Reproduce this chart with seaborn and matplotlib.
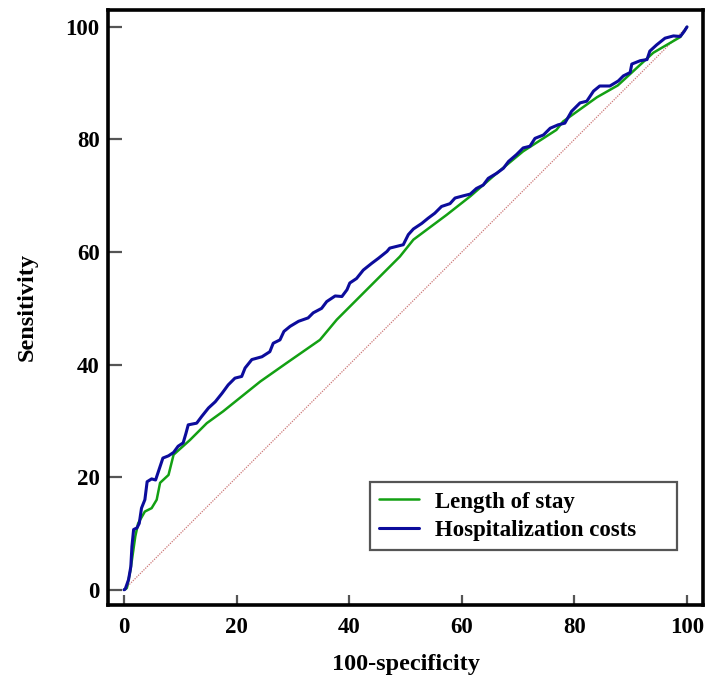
"""Curvas ROC: tempo de internação x custos hospitalares."""
import matplotlib
matplotlib.use('Agg')
import matplotlib.pyplot as plt
import pandas as pd
import seaborn as sns

# curva verde: tempo de internação (100-especificidade, sensibilidade)
los_x = [0, 0.5, 1.1, 1.4, 2.0, 2.5, 3.7, 4.9, 5.8, 6.4, 7.9, 8.8, 11.7, 14.7,
         17.6, 24.2, 28.9, 34.8, 37.8, 43.7, 49.0, 51.4, 57.3, 61.5, 66.2,
         70.9, 76.8, 78.0, 84.0, 87.7, 94.0, 96.4, 98.8, 100]
los_y = [0, 0.3, 3.3, 5.3, 9.5, 11.8, 13.9, 14.5, 16.0, 19.0, 20.4, 24.0, 26.6,
         29.6, 31.7, 37.0, 40.3, 44.4, 48.0, 53.9, 59.2, 62.2, 66.6, 69.9,
         74.0, 77.9, 81.7, 83.2, 87.5, 89.6, 95.4, 96.8, 98.2, 100]

# curva azul: custos hospitalares
cost_x = [0, 0.2, 0.8, 1.2, 1.4, 1.7, 2.3, 2.7, 3.1, 3.7, 4.1, 4.9, 5.6, 6.3,
          6.9, 7.9, 8.8, 9.6, 10.5, 11.0, 11.4, 12.9, 13.8, 15.0, 16.2, 17.4,
          18.5, 19.7, 20.9, 21.5, 22.7, 24.5, 25.9, 26.5, 27.7, 28.4, 29.5,
          31.0, 32.7, 33.6, 35.1, 36.0, 37.5, 38.7, 39.6, 40.1, 41.3, 42.5,
          44.0, 45.2, 46.7, 47.2, 48.4, 49.6, 50.5, 51.4, 52.9, 54.0, 55.2,
          56.4, 57.9, 58.8, 60.3, 61.5, 62.6, 63.8, 64.7, 66.2, 67.4, 68.3,
          69.7, 70.9, 72.1, 73.0, 74.5, 75.7, 77.1, 78.3, 79.5, 81.0, 82.2,
          83.4, 84.5, 86.3, 87.8, 88.7, 89.9, 90.2, 91.7, 92.9, 93.4, 94.6,
          96.1, 97.6, 98.8, 99.5, 100]
cost_y = [0, 0.1, 1.8, 4.1, 7.7, 10.7, 11.0, 11.8, 14.5, 16.0, 19.2, 19.7,
          19.5, 21.6, 23.4, 23.8, 24.4, 25.5, 26.1, 27.8, 29.3, 29.6, 30.8,
          32.3, 33.4, 34.9, 36.4, 37.6, 37.9, 39.4, 40.9, 41.4, 42.3, 43.8,
          44.4, 45.9, 46.8, 47.7, 48.3, 49.2, 50.0, 51.2, 52.2, 52.1, 53.3,
          54.5, 55.3, 56.8, 58.0, 58.9, 60.1, 60.7, 61.0, 61.3, 63.1, 64.1,
          65.1, 66.0, 66.9, 68.1, 68.6, 69.6, 70.0, 70.3, 71.3, 71.9, 73.1,
          74.0, 74.9, 76.1, 77.3, 78.5, 78.8, 80.2, 80.8, 82.0, 82.6, 82.9,
          85.0, 86.5, 86.8, 88.6, 89.5, 89.5, 90.4, 91.3, 91.9, 93.4, 94.0,
          94.2, 95.7, 96.8, 98.0, 98.4, 98.3, 99.2, 100]

# linha de referência (classificador aleatório)
ref_x = [0, 100]
ref_y = [0, 100]

ticks = [0, 20, 40, 60, 80, 100]

sns.set_theme(style='white')
plt.rcParams['font.family'] = ['Liberation Serif', 'DejaVu Serif']
plt.rcParams['font.weight'] = 'bold'
plt.rcParams['text.color'] = 'black'
plt.rcParams['axes.labelcolor'] = 'black'

# tabela longa para o seaborn
df = pd.concat([
    pd.DataFrame({'x': los_x, 'y': los_y, 'curva': 'Length of stay'}),
    pd.DataFrame({'x': cost_x, 'y': cost_y, 'curva': 'Hospitalization costs'}),
], ignore_index=True)

fig = plt.figure(figsize=(7.05, 6.77), dpi=100)
ax = fig.add_axes([0.1532, 0.1064, 0.844, 0.8788])

# diagonal de referência
sns.lineplot(x=ref_x, y=ref_y, ax=ax, color='#cc7777', lw=0.9,
             linestyle=(0, (1, 1)), legend=False)

for nome, cor, lw in [('Length of stay', '#13a013', 1.8),
                      ('Hospitalization costs', '#0c0c9c', 2.2)]:
    sub = df[df['curva'] == nome]
    sns.lineplot(data=sub, x='x', y='y', ax=ax, color=cor, lw=lw,
                 sort=False, estimator=None, label=nome)

ax.set_xlim(-2.85, 102.85)
ax.set_ylim(-2.7, 103)
ax.set_xticks(ticks)
ax.set_yticks(ticks)
ax.tick_params(direction='in', width=1.6, color='#555555', labelcolor='black',
               labelsize=16.5, bottom=True, left=True)
ax.tick_params(axis='x', length=7.5, pad=9)
ax.tick_params(axis='y', length=10, pad=6)
for lbl in ax.get_xticklabels() + ax.get_yticklabels():
    lbl.set_fontweight('bold')

for sp in ax.spines.values():
    sp.set_visible(True)
    sp.set_color('black')
    sp.set_linewidth(2.6)

ax.set_xlabel('100-specificity', fontsize=17.5, fontweight='bold', labelpad=11)
ax.set_ylabel('Sensitivity', fontsize=17.5, fontweight='bold', labelpad=20)

leg = ax.legend(loc='lower left', bbox_to_anchor=(0.4405, 0.0923, 0.516, 0.116),
                mode='expand', borderaxespad=0, fancybox=False, framealpha=1,
                prop={'size': 16.5, 'weight': 'bold'}, handlelength=1.75,
                handletextpad=0.7, borderpad=0.4, labelspacing=0.32)
leg.get_frame().set_edgecolor('#555555')
leg.get_frame().set_linewidth(1.6)

fig.savefig('out.png', dpi=100)
